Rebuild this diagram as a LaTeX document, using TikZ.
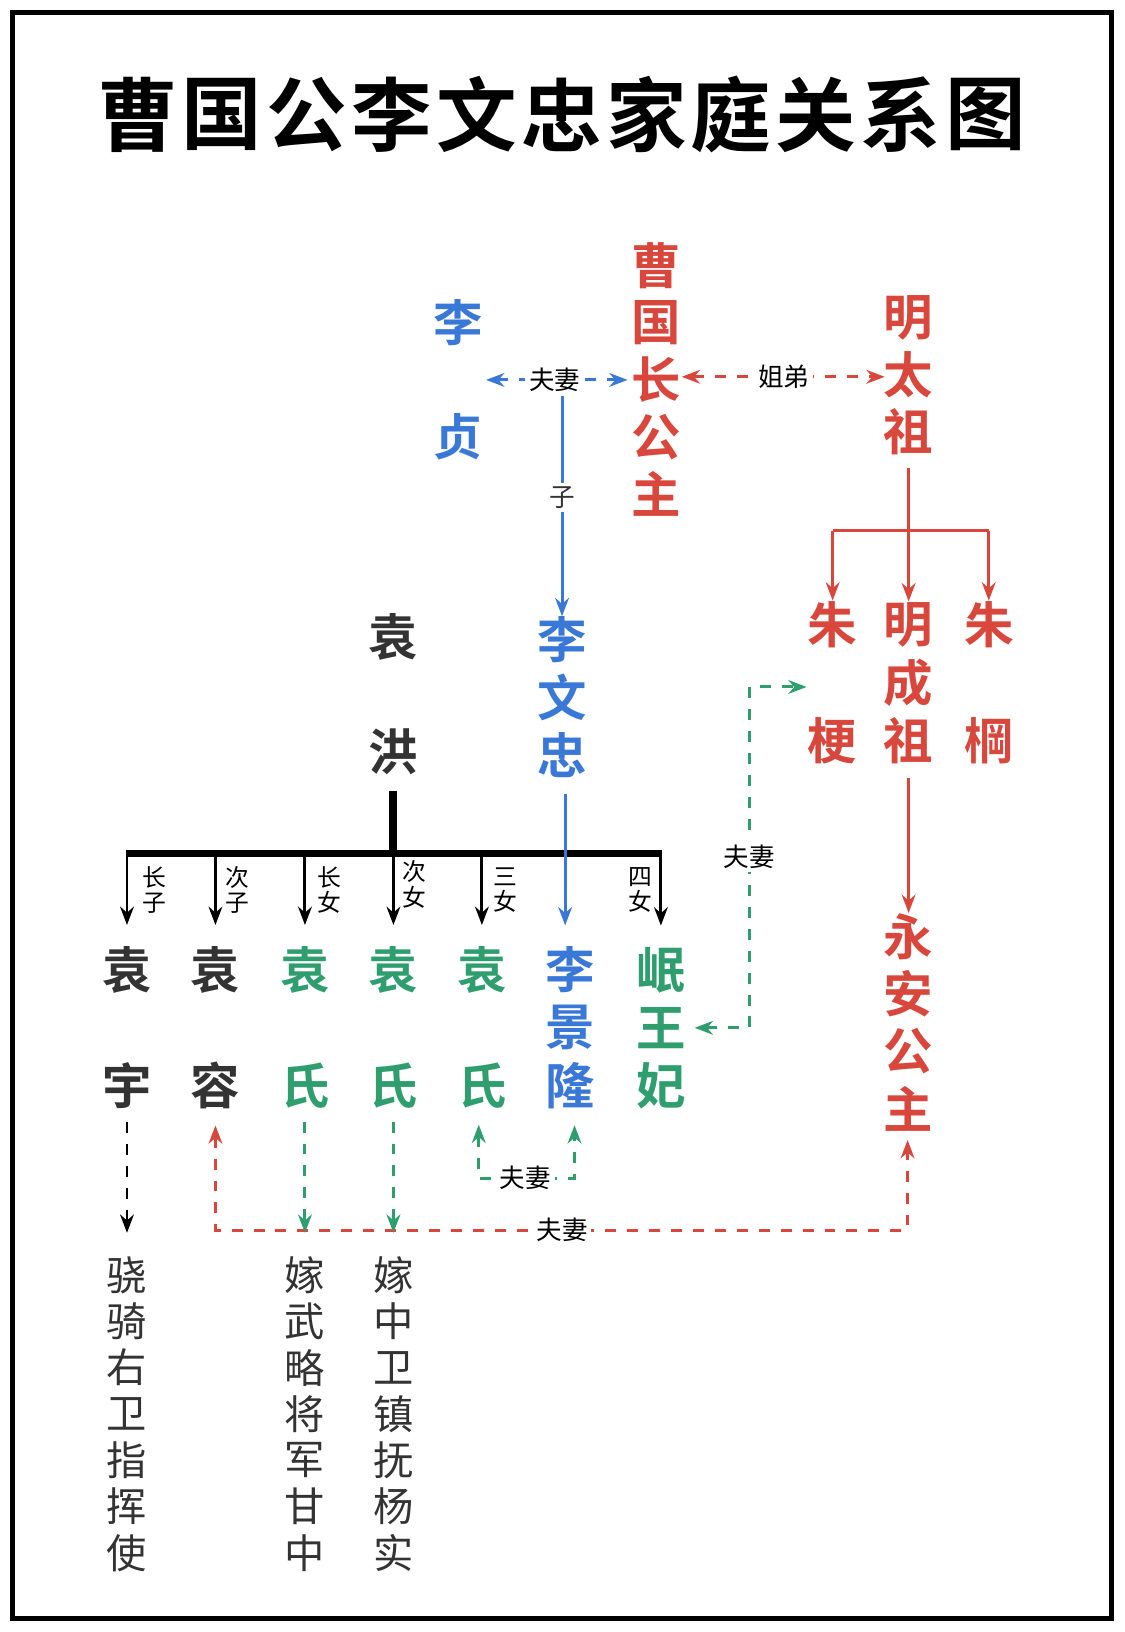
\documentclass[tikz,border=0pt]{standalone}
\usepackage{fontspec}
\setmainfont{Noto Sans CJK SC}
\newfontfamily\cjkb{Noto Sans CJK SC Bold}
\usetikzlibrary{arrows.meta, positioning, calc}
\definecolor{lblue}{HTML}{3A78D8}
\definecolor{lred}{HTML}{D9463B}
\definecolor{lgreen}{HTML}{2E9E6E}
\definecolor{lgray}{HTML}{333333}
\tikzset{
  namechar/.style={font=\cjkb\fontsize{13.5pt}{14pt}\selectfont, inner sep=0pt},
  notechar/.style={font=\fontsize{11pt}{12pt}\selectfont, inner sep=0pt},
  smallchar/.style={font=\fontsize{7pt}{8pt}\selectfont, inner sep=1pt, fill=white},
  tinychar/.style={font=\fontsize{6.5pt}{7pt}\selectfont, inner sep=0pt, align=center},
  link/.style={-{Stealth[length=5pt]}, thick},
  dlink/.style={{Stealth[length=5pt]}-{Stealth[length=5pt]}, dashed, thick},
}
\newcommand{\vname}[7][namechar]{% style, name, x, y0, step, color, chars
  \foreach \c [count=\i from 0] in {#7}
    \node[#1, text=#6] (#2-\i) at (#3,{#4+#5*\i}) {\c};
}
\begin{document}
\begin{tikzpicture}[x=0.01cm,y=-0.01cm]
\useasboundingbox (0,0) rectangle (1080,1568);
\fill[white] (0,0) rectangle (1080,1568);
\draw[line width=1.2pt] (12,12) rectangle (1068,1555);
% title
\foreach \c [count=\i from 0] in {曹,国,公,李,文,忠,家,庭,关,系,图}
  \node[font=\cjkb\fontsize{22pt}{24pt}\selectfont, inner sep=0pt] (title-\i) at ({132+81.5*\i},110) {\c};
% upper generation
\vname{lz}{440}{310}{110}{lblue}{李,贞}
\vname{czgz}{630}{255}{55}{lred}{曹,国,长,公,主}
\vname{mtz}{873}{305}{55}{lred}{明,太,祖}
\draw[dlink, lblue] (467,365) -- (603,365);
\node[smallchar] (fq1) at (533,365) {夫妻};
\draw[dlink, lred] (655,362) -- (850,362);
\node[smallchar] (jd) at (753,362) {姐弟};
% Li Wenzhong
\vname{lwz}{540}{615}{55}{lblue}{李,文,忠}
\draw[link, lblue] (fq1.south -| lwz-0.north) -- (lwz-0.north);
\node[smallchar, text=lgray] (zi) at (540,478) {子};
\vname{yh}{378}{612}{110}{lgray}{袁,洪}
% Ming Taizu children
\vname{zg}{800}{600}{112}{lred}{朱,梗}
\vname{mcz}{873}{600}{56}{lred}{明,成,祖}
\vname{zh}{950}{600}{112}{lred}{朱,棡}
\draw[lred, thick] (800,510) -- (950,510);
\draw[link, lred] (mtz-2.south) ++(0,12) -- (mcz-0.north);
\draw[link, lred] (800,510) -- (zg-0.north);
\draw[link, lred] (950,510) -- (zh-0.north);
\vname{yagz}{873}{900}{55}{lred}{永,安,公,主}
\draw[link, lred] (mcz-2.south) ++(0,12) -- (yagz-0.north);
% Yuan Hong children
\draw[line width=2.2pt] (yh-1.south) ++(0,15) -- (378,820);
\draw[line width=2pt] (121,820) -- (636,820);
\vname{yy}{122}{932}{111}{lgray}{袁,宇}
\vname{yr}{207}{932}{111}{lgray}{袁,容}
\vname{ys1}{293}{932}{111}{lgreen}{袁,氏}
\vname{ys2}{378}{932}{111}{lgreen}{袁,氏}
\vname{ys3}{463}{932}{111}{lgreen}{袁,氏}
\vname{ljl}{548}{932}{55.5}{lblue}{李,景,隆}
\vname{mwf}{635}{932}{55.5}{lgreen}{岷,王,妃}
\foreach \n/\x in {yy/122, yr/207, ys1/293, ys2/378, ys3/463, mwf/635}
  \draw[link, thick] (\x,820) -- ($(\n-0.north)+(0,-20)$);
\node[tinychar] (l1) at (148,855) {长\\子};
\node[tinychar] (l2) at (228,855) {次\\子};
\node[tinychar] (l3) at (316,855) {长\\女};
\node[tinychar] (l4) at (398,850) {次\\女};
\node[tinychar] (l5) at (486,855) {三\\女};
\node[tinychar] (l6) at (615,855) {四\\女};
\draw[link, lblue] (lwz-2.south) ++(3,15) -- ($(ljl-0.north)+(-5,-20)$);
% marriages
\draw[dlink, lgreen] ($(mwf-1.east)+(8,0)$) -| (720,660) -- (775,660);
\node[smallchar] (fq2) at (720,823) {夫妻};
\draw[dlink, lgreen] ($(ys3-1.south)+(-3,15)$) |- (505,1132) -| ($(ljl-2.south)+(4,15)$);
\node[smallchar] (fq3) at (505,1132) {夫妻};
\draw[dlink, lred] ($(yr-1.south)+(0,15)$) |- (540,1182) -| ($(yagz-3.south)+(-1,8)$);
\node[smallchar] (fq4) at (540,1182) {夫妻};
% bottom notes
\vname[notechar]{yyn}{122}{1225}{44.5}{lgray}{骁,骑,右,卫,指,挥,使}
\vname[notechar]{ys1n}{293}{1225}{44.5}{lgray}{嫁,武,略,将,军,甘,中}
\vname[notechar]{ys2n}{378}{1225}{44.5}{lgray}{嫁,中,卫,镇,抚,杨,实}
\draw[link, dashed] ($(yy-1.south)+(0,12)$) -- ($(yyn-0.north)+(0,-22)$);
\draw[link, dashed, lgreen] ($(ys1-1.south)+(0,12)$) -- ($(ys1n-0.north)+(0,-22)$);
\draw[link, dashed, lgreen] ($(ys2-1.south)+(0,12)$) -- ($(ys2n-0.north)+(0,-22)$);
\end{tikzpicture}
\end{document}
